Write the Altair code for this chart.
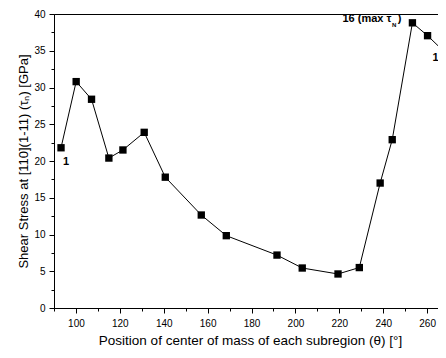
import altair as alt
import pandas as pd

theta = [93.2, 100.1, 107.1, 115.0, 121.4, 131.1, 140.7, 157.1, 168.5, 191.6,
         203.1, 219.4, 229.1, 238.6, 244.1, 253.3, 260.2, 267.0]
tau = [21.8, 30.8, 28.4, 20.4, 21.5, 23.9, 17.8, 12.65, 9.84, 7.2,
       5.44, 4.63, 5.5, 17.0, 22.9, 38.8, 37.05, 35.1]
subregion = list(range(1, 19))

x_major = [100, 120, 140, 160, 180, 200, 220, 240, 260]
x_minor = [90, 110, 130, 150, 170, 190, 210, 230, 250, 270]
y_major = [0, 5, 10, 15, 20, 25, 30, 35, 40]
y_minor = [2.5, 7.5, 12.5, 17.5, 22.5, 27.5, 32.5, 37.5]

df = pd.DataFrame({"theta": theta, "tau": tau, "n": subregion})

FONT = "Liberation Sans"
xs = alt.Scale(domain=[90, 268.6], nice=False, zero=False)
ys = alt.Scale(domain=[0, 40], nice=False)

common = dict(tickSize=5, labelFontSize=10, labelFont=FONT, titleFont=FONT,
              titleFontWeight="normal", domainColor="black", tickColor="black",
              labelColor="black", titleColor="black", grid=False)
x_ax = alt.Axis(values=x_major, orient="bottom", titleFontSize=13.5,
                labelPadding=5, titlePadding=5,
                title="Position of center of mass of each subregion (θ) [°]", **common)
y_ax = alt.Axis(values=y_major, orient="left", titleFontSize=13,
                labelPadding=4, titlePadding=3,
                title="Shear Stress at [110](1-11) (τₙ) [GPa]", **common)

def X(axis=None):
    return alt.X("theta:Q", scale=xs, axis=axis)

def Y(axis=None):
    return alt.Y("tau:Q", scale=ys, axis=axis)

base = alt.Chart(df)
line = base.mark_line(color="black", strokeWidth=1).encode(x=X(x_ax), y=Y(y_ax))

minor = base.mark_point(opacity=0).encode(
    x=X(alt.Axis(values=x_minor, tickSize=3, labels=False, title=None,
                 domain=False, grid=False, orient="bottom", tickColor="black")),
    y=Y(alt.Axis(values=y_minor, tickSize=3, labels=False, title=None,
                 domain=False, grid=False, orient="left", tickColor="black")),
)

pts = base.mark_square(color="black", size=54, opacity=1).encode(x=X(), y=Y())

txt = dict(font=FONT, fontWeight="bold", color="black")
lbl1 = alt.Chart(df[df["n"] == 1]).mark_text(fontSize=11, align="center", dx=5, dy=14, **txt).encode(
    x=X(), y=Y(), text="n:N")
lbl18 = alt.Chart(df[df["n"] == 18]).mark_text(fontSize=11, align="left", dx=-10, dy=8, **txt).encode(
    x=X(), y=Y(), text="n:N")

m_df = df[df["n"] == 16]
m1 = alt.Chart(m_df).mark_text(fontSize=11, align="right", dx=-21, dy=-4, **txt).encode(
    x=X(), y=Y(), text=alt.value("16 (max τ"))
m2 = alt.Chart(m_df).mark_text(fontSize=6, align="right", dx=-16, dy=2.5, **txt).encode(
    x=X(), y=Y(), text=alt.value("N"))
m3 = alt.Chart(m_df).mark_text(fontSize=11, align="right", dx=-11, dy=-4, **txt).encode(
    x=X(), y=Y(), text=alt.value(")"))

chart = alt.layer(line, minor, pts, lbl1, lbl18, m1, m2, m3).resolve_axis(
    x="independent", y="independent"
).properties(
    width=392, height=294,
    autosize=alt.AutoSizeParams(type="none"),
    padding={"left": 46, "top": 6, "right": -8, "bottom": 42},
).configure_view(stroke="black", strokeWidth=1)

chart.save("out.html", embed_options={"renderer": "svg", "actions": False})
